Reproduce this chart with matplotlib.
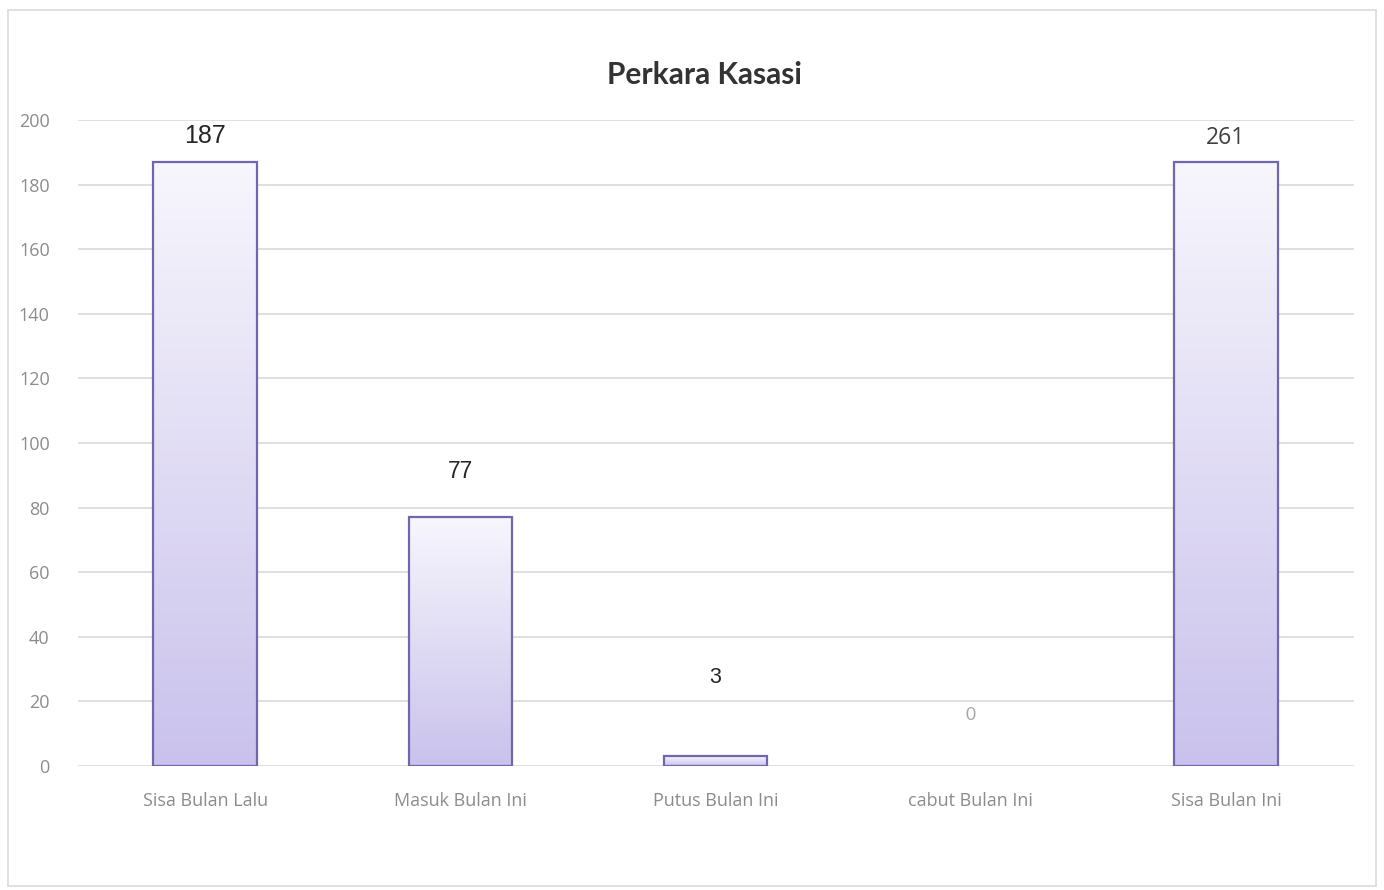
import numpy as np
import matplotlib.pyplot as plt
from matplotlib.patches import Rectangle

#---------------------------------------------------------------- Data ------------------------------------------------------------
categories = ["Sisa Bulan Lalu", "Masuk Bulan Ini", "Putus Bulan Ini", "cabut Bulan Ini", "Sisa Bulan Ini"]
values = [187, 77, 3, 0, 187]                  # bar heights as drawn
value_labels = ["187", "77", "3", "0", "261"]  # labels as printed on the chart
yticks = [0, 20, 40, 60, 80, 100, 120, 140, 160, 180, 200]

# label offsets above the bar top (points) and styles - the labels sit unevenly in the original
label_offsets = [19, 33, 57, 37, 17]
label_fonts = ["Liberation Sans", "Liberation Sans", "Liberation Sans", "Lato", "Open Sans"]
label_colors = ["#262626", "#262626", "#262626", "#a6a6a6", "#404040"]
label_sizes = [18, 16.5, 15.5, 12.5, 16.5]

#---------------------------------------------------------------- Figure ------------------------------------------------------------
fig = plt.figure(figsize=(13.84, 8.90), dpi=100)
fig.patch.set_facecolor("white")
fig.patches.append(Rectangle((8/1384, 4/890), 1368/1384, 876/890, transform=fig.transFigure,
                             fill=False, edgecolor="#dcdcdc", linewidth=1.2))

ax = fig.add_axes([77.5/1384, 1 - 766/890, 1276/1384, (766 - 120)/890])
x = np.arange(len(categories))
bars = ax.bar(x, values, width=0.405, facecolor="none", edgecolor="#6f66b0", linewidth=1.6, zorder=3)

# vertical gradient fill, light at top, lavender at bottom
grad = np.linspace(0, 1, 256).reshape(-1, 1)
top = np.array([0.970, 0.965, 0.990])
bottom = np.array([0.790, 0.760, 0.925])
rgb = top + (bottom - top) * grad
img = rgb.reshape(256, 1, 3)
for b in bars:
    h = b.get_height()
    if h <= 0:
        b.set_visible(False)      # nothing drawn for a zero value
        continue
    x0 = b.get_x()
    im = ax.imshow(img, extent=[x0, x0 + b.get_width(), 0, h], origin="upper", aspect="auto", zorder=2)
    im.set_clip_path(b)

for i, b in enumerate(bars):
    ax.annotate(value_labels[i], (b.get_x() + b.get_width() / 2, b.get_height()),
                xytext=(0, label_offsets[i]), textcoords="offset points", ha="center", va="center",
                fontsize=label_sizes[i], color=label_colors[i], family=label_fonts[i])

ax.set_xlim(-0.5, len(categories) - 0.5)
ax.set_ylim(0, 200)
ax.set_yticks(yticks)
ax.set_xticks(x)
ax.set_xticklabels(categories, family="Open Sans", fontsize=13, color="#8c8c8c")
for lab in ax.get_yticklabels():
    lab.set_family("Open Sans")
    lab.set_fontsize(13)
    lab.set_color("#8c8c8c")
ax.tick_params(axis="both", length=0)
ax.tick_params(axis="y", pad=20)
ax.tick_params(axis="x", pad=19)
ax.grid(axis="y", color="#d9d9d9", linewidth=1.2, zorder=0)
ax.set_axisbelow(True)
for s in ax.spines.values():
    s.set_visible(False)

fig.text(704/1384, 1 - 75/890, "Perkara Kasasi", ha="center", va="center",
         fontsize=21.5, fontweight="bold", family="Lato", color="#333333")

fig.savefig("out.png", dpi=100)
